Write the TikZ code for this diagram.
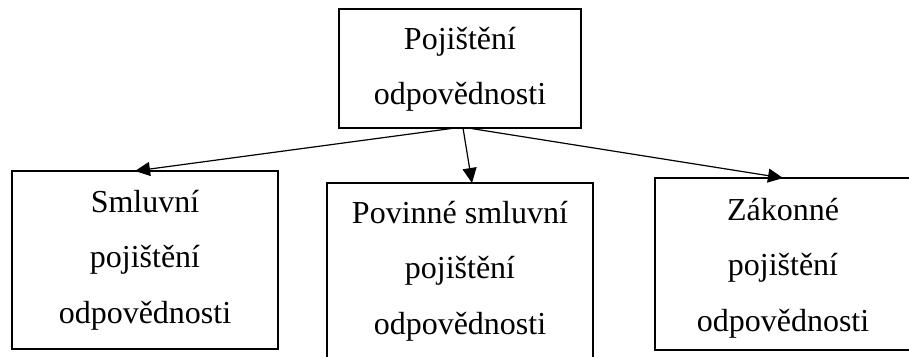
\documentclass[tikz,border=0pt]{standalone}
\usepackage{fontspec}
\setmainfont{Liberation Serif}
\usetikzlibrary{arrows.meta}

\begin{document}
\begin{tikzpicture}[x=1pt,y=-1pt]
  % overall canvas
  \useasboundingbox (0,0) rectangle (909,356);
  \clip (0,0) rectangle (909,356);

  % styles
  \tikzset{
    box/.style={draw=black,line width=1.3pt,rectangle,inner sep=0pt,outer sep=0pt},
    lbl/.style={font=\fontsize{32}{55.5}\selectfont,align=center,inner sep=0pt,anchor=base},
    arr/.style={draw=black,line width=1.2pt,-{Triangle[length=15pt,width=14pt]}},
  }

  % white background
  \fill[white] (0,0) rectangle (909,356);

  % boxes
  \node[box,minimum width=242pt,minimum height=119pt] (top)   at (460,68.5) {};
  \node[box,minimum width=266pt,minimum height=178pt] (smluv) at (145,260) {};
  \node[box,minimum width=266pt,minimum height=176pt] (povin) at (460,271) {};
  \node[box,minimum width=256pt,minimum height=172pt] (zakon) at (783,264) {};

  % texts (base = baseline of the last line)
  \node[lbl] (topt)   at ([yshift=-95.5pt]top.north) {Pojištění\\odpovědnosti};
  \node[lbl] (smluvt) at ([yshift=-152pt]smluv.north) {Smluvní\\pojištění\\odpovědnosti};
  \node[lbl] (povint) at ([yshift=-151pt]povin.north) {Povinné smluvní\\pojištění\\odpovědnosti};
  \node[lbl] (zakont) at ([yshift=-153pt]zakon.north) {Zákonné\\pojištění\\odpovědnosti};

  % arrows
  \draw[arr] ([xshift=-5pt]top.south) -- ([xshift=-10pt]smluv.north);
  \draw[arr] ([xshift=3pt]top.south)  -- ([xshift=12pt]povin.north);
  \draw[arr] ([xshift=8pt]top.south)  -- (zakon.north);
\end{tikzpicture}
\end{document}
